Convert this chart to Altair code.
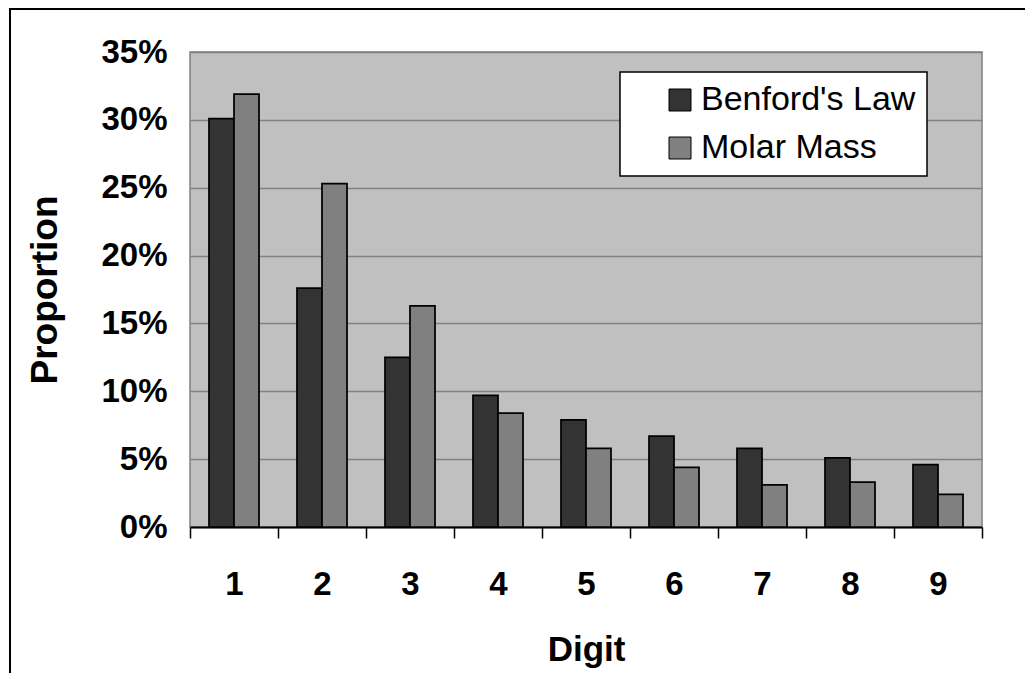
import altair as alt
import pandas as pd

digits = ["1", "2", "3", "4", "5", "6", "7", "8", "9"]
series_names = ["Benford's Law", "Molar Mass"]
benford = [0.301, 0.176, 0.125, 0.097, 0.079, 0.067, 0.058, 0.051, 0.046]
molar = [0.319, 0.253, 0.163, 0.084, 0.058, 0.044, 0.031, 0.033, 0.024]
y_ticks = [0, 0.05, 0.10, 0.15, 0.20, 0.25, 0.30, 0.35]

rows = []
for d, b, m in zip(digits, benford, molar):
    rows.append({"Digit": d, "Series": series_names[0], "Proportion": b})
    rows.append({"Digit": d, "Series": series_names[1], "Proportion": m})
df = pd.DataFrame(rows)

FONT = "Liberation Sans"
NBSP3 = "\u00a0\u00a0\u00a0"

bars = alt.Chart(df).mark_bar(stroke="black", strokeWidth=1.75).encode(
    x=alt.X(
        "Digit:N",
        sort=digits,
        scale=alt.Scale(paddingInner=0, paddingOuter=0),
        axis=alt.Axis(
            title="Digit",
            labelAngle=0,
            labelFont=FONT,
            labelFontSize=33,
            labelFontWeight="bold",
            labelColor="black",
            labelBaseline="alphabetic",
            labelPadding=56,
            tickBand="extent",
            tickColor="black",
            tickWidth=1.5,
            tickSize=11,
            domainColor="black",
            domainWidth=2,
            grid=False,
            titleFont=FONT,
            titleFontSize=35,
            titleFontWeight="bold",
            titleColor="black",
            titleBaseline="alphabetic",
            titleAlign="center",
            titleX=396,
            titleY=133,
        ),
    ),
    xOffset=alt.XOffset(
        "Series:N", sort=series_names,
        scale=alt.Scale(paddingInner=0, paddingOuter=0.76),
    ),
    y=alt.Y(
        "Proportion:Q",
        scale=alt.Scale(domain=[0, 0.35], nice=False, zero=True),
        axis=alt.Axis(
            title="Proportion",
            format=".0%",
            values=y_ticks,
            labelFont=FONT,
            labelFontSize=33,
            labelFontWeight="bold",
            labelColor="black",
            labelPadding=23,
            ticks=False,
            domain=False,
            grid=True,
            gridColor="#808080",
            gridWidth=1.5,
            titleFont=FONT,
            titleFontSize=37,
            titleFontWeight="bold",
            titleColor="black",
            titleAngle=270,
            titleBaseline="alphabetic",
            titleAlign="center",
            titleX=-134,
            titleY=237.5,
        ),
    ),
    color=alt.Color(
        "Series:N",
        sort=series_names,
        scale=alt.Scale(domain=series_names, range=["#333333", "#808080"]),
        legend=alt.Legend(
            title=None,
            orient="none",
            legendX=430,
            legendY=20,
            fillColor="white",
            strokeColor="black",
            padding=11,
            symbolType="square",
            symbolSize=484,
            symbolStrokeColor="black",
            symbolStrokeWidth=1,
            symbolOffset=32,
            labelOffset=4,
            labelFont=FONT,
            labelFontSize=34,
            labelColor="black",
            labelExpr="datum.label + '" + NBSP3 + "'",
            rowPadding=14,
            labelLimit=400,
        ),
    ),
)

border = alt.Chart(pd.DataFrame({"k": [0]})).mark_rect(
    fill=None, stroke="black", strokeWidth=2
).encode(
    x=alt.value(-180), x2=alt.value(900), y=alt.value(-43), y2=alt.value(700)
)

chart = alt.layer(border, bars).properties(
    width=792,
    height=475,
    padding={"left": 182, "top": 44, "right": 43, "bottom": 146},
    autosize=alt.AutoSizeParams(type="none"),
    background="white",
).configure_view(
    fill="#C0C0C0", stroke="#808080", strokeWidth=1.5
).configure_legend(
    strokeWidth=1.5
)

chart.save("out.html", embed_options={"renderer": "svg", "actions": False})
